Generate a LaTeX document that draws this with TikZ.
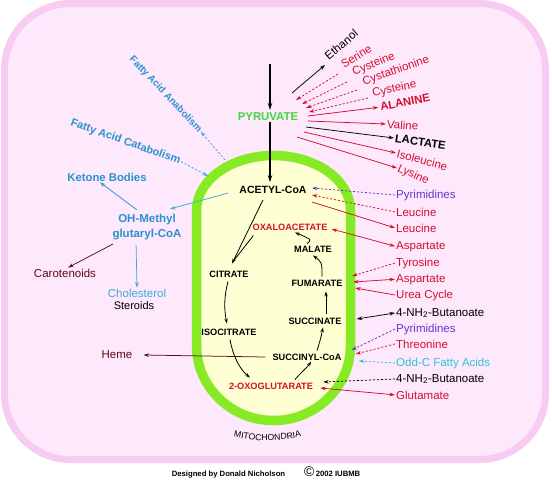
\documentclass[tikz,border=0pt]{standalone}
\usepackage{fontspec}
\setmainfont{Liberation Sans}
\usetikzlibrary{arrows.meta,decorations.text}
\definecolor{cellfill}{HTML}{FDE8FC}
\definecolor{cellline}{HTML}{F8CBF2}
\definecolor{mitofill}{HTML}{FFFFD4}
\definecolor{mitoline}{HTML}{86EA24}
\definecolor{pyrgreen}{HTML}{3FD83F}
\definecolor{rd}{HTML}{D2102C}
\definecolor{pu}{HTML}{6A30D0}
\definecolor{bl}{HTML}{2A92CF}
\definecolor{lb}{HTML}{3FAADB}
\definecolor{cy}{HTML}{2EC4D4}
\definecolor{mr}{HTML}{5C0A18}
\tikzset{
  arr/.style={line width=0.75pt,-{Stealth[length=5.5pt,width=3.6pt]}},
  darr/.style={line width=0.75pt,{Stealth[length=5.5pt,width=3.6pt]}-{Stealth[length=5.5pt,width=3.6pt]}},
  dsh/.style={dash pattern=on 2.2pt off 1.8pt},
  lbl/.style={font=\fontsize{11.5}{12}\selectfont, inner sep=1pt},
  blbl/.style={font=\bfseries\fontsize{11.3}{12}\selectfont, inner sep=1pt},
  cyc/.style={font=\bfseries\fontsize{9.2}{10}\selectfont, inner sep=1pt},
  carr/.style={line width=0.8pt,-{Stealth[length=5pt,width=3.4pt]}},
  bigarr/.style={line width=1.2pt,-{Stealth[length=7pt,width=4.5pt]}},
  foot/.style={font=\bfseries\fontsize{7.7}{9}\selectfont, inner sep=0pt},
}
\begin{document}
\begin{tikzpicture}[x=1pt,y=-1pt]
\useasboundingbox (0,0) rectangle (552,480);
\fill[white] (0,0) rectangle (552,480);
% cell
\draw[cellline, line width=7pt, fill=cellfill, rounded corners=66pt] (4.5,3.5) rectangle (545.5,459.5);
% mitochondrion
\draw[mitoline, line width=9.5pt, fill=mitofill]
  (196.5,210.5) .. controls (196.5,180.1) and (231.0,155.5) .. (273.5,155.5)
  .. controls (316.0,155.5) and (350.5,180.1) .. (350.5,210.5) -- (350.5,345.5)
  .. controls (350.5,386.9) and (316.0,420.5) .. (273.5,420.5)
  .. controls (231.0,420.5) and (196.5,386.9) .. (196.5,345.5) -- cycle;
\path[decorate, decoration={text along path, text align=center,
  text={|\fontsize{8.7}{9}\selectfont|MITOCHONDRIA}}]
  (220,433) .. controls (250,443) and (285,443) .. (315,433);

% main nodes
\node[font=\bfseries\fontsize{11.4}{12}\selectfont, text=pyrgreen, inner sep=1pt] (pyr) at (268,117) {PYRUVATE};
\node[font=\bfseries\fontsize{10.5}{11}\selectfont, inner sep=1pt] (acoa) at (273,190) {ACETYL-CoA};
\coordinate (top) at (270,64);
\draw[bigarr, shorten >=2pt] (top) -- (pyr.north -| top);
\draw[bigarr, shorten >=3pt] (pyr.south -| top) -- (acoa.north -| top);

% cycle nodes
\node[cyc, text=rd] (oxa) at (290,227) {OXALOACETATE};
\node[cyc] (mal) at (313,249) {MALATE};
\node[cyc] (cit) at (229,274) {CITRATE};
\node[cyc] (fum) at (317,283) {FUMARATE};
\node[cyc] (suc) at (315,321) {SUCCINATE};
\node[cyc] (iso) at (229,332) {ISOCITRATE};
\node[cyc] (scoa) at (307,357) {SUCCINYL-CoA};
\node[cyc, text=rd] (oxg) at (271,386) {2-OXOGLUTARATE};

% cycle arrows
\draw[carr] ([xshift=-10pt,yshift=-5pt]acoa.south) -- ([xshift=3pt,yshift=6pt]cit.north);
\draw[line width=0.8pt] ([xshift=2pt,yshift=-4pt]oxa.south west) -- ([xshift=4pt,yshift=8pt]cit.north);
\draw[carr] ([xshift=-1pt,yshift=-3pt]cit.south) .. controls ([xshift=-5pt,yshift=-18pt]cit.south) and ([xshift=-5pt,yshift=18pt]iso.north) .. ([xshift=-2pt,yshift=4pt]iso.north);
\draw[carr] ([xshift=1pt,yshift=-3pt]iso.south) .. controls ([xshift=4pt,yshift=-20pt]iso.south) and ([xshift=-31pt,yshift=12pt]oxg.north) .. ([xshift=-21pt,yshift=4pt]oxg.north);
\draw[carr] ([xshift=24pt,yshift=2pt]oxg.north) .. controls ([xshift=30pt,yshift=9pt]oxg.north) and ([xshift=1pt,yshift=-5pt]scoa.south) .. ([xshift=4pt]scoa.south);
\draw[carr] ([xshift=10pt,yshift=2pt]scoa.north) .. controls ([xshift=6pt,yshift=-12pt]suc.south) .. ([xshift=8pt,yshift=-2pt]suc.south);
\draw[carr] ([xshift=11pt,yshift=3pt]suc.north) -- ([xshift=9pt,yshift=-4pt]fum.south);
\draw[carr] ([xshift=5pt,yshift=2pt]fum.north) .. controls ([xshift=9pt,yshift=-9pt]mal.south) .. ([yshift=-2pt]mal.south);
\draw[carr] ([xshift=-6pt,yshift=1pt]mal.north) .. controls ([xshift=-1pt,yshift=5pt]mal.north) .. ([xshift=5pt,yshift=-1pt]oxa.south);

% pyruvate fan
\coordinate (pe) at (292,93);
\coordinate (ps1) at (296,100);
\coordinate (ps2) at (302,104);
\coordinate (ps3) at (306,108);
\coordinate (ps4) at (309,112);
\coordinate (pa) at (308,116);
\coordinate (pv) at (308,121);
\coordinate (pl) at (306,127);
\coordinate (pi) at (304,132);
\coordinate (py) at (297,137);
\node[lbl, anchor=base west, rotate=40] (eth) at (328,61) {Ethanol};
\node[lbl, text=rd, anchor=base west, rotate=31] (ser) at (343,69) {Serine};
\node[lbl, text=rd, anchor=base west, rotate=22] (cys1) at (353,76) {Cysteine};
\node[lbl, text=rd, anchor=base west, rotate=19.5] (cth) at (363,86) {Cystathionine};
\node[lbl, text=rd, anchor=base west, rotate=12] (cys2) at (372,97) {Cysteine};
\node[blbl, text=rd, anchor=base west, rotate=11] (ala) at (380,111) {ALANINE};
\node[lbl, text=rd, anchor=west, rotate=-4] (val) at (386,124) {Valine};
\node[blbl, anchor=west, rotate=-8] (lac) at (394,138) {LACTATE};
\node[lbl, text=rd, anchor=west, rotate=-15] (ile) at (396,153) {Isoleucine};
\node[lbl, text=rd, anchor=west, rotate=-24] (lys) at (397,168) {Lysine};
\draw[arr] (pe) -- ([shift={(-3,4)}]eth.base west);
\draw[arr, dsh, rd] ([shift={(-5,5)}]ser.base west) -- (ps1);
\draw[arr, dsh, rd] ([shift={(-6,6)}]cys1.base west) -- (ps2);
\draw[arr, dsh, rd] ([shift={(-6,4)}]cth.base west) -- (ps3);
\draw[arr, dsh, rd] ([shift={(-4,1)}]cys2.base west) -- (ps4);
\draw[arr, rd, shorten >=1pt] (pa) -- (ala.west);
\draw[arr, rd] (pv) -- (val.west);
\draw[arr] (pl) -- (lac.west);
\draw[arr, rd] (pi) -- (ile.west);
\draw[arr, rd] (py) -- (lys.west);

% right-hand labels
\node[lbl, text=pu, anchor=base west] (pyr1) at (395,198) {Pyrimidines};
\node[lbl, text=rd, anchor=base west] (leu1) at (395,216) {Leucine};
\node[lbl, text=rd, anchor=base west] (leu2) at (395,232) {Leucine};
\node[lbl, text=rd, anchor=base west] (asp1) at (395,249) {Aspartate};
\node[lbl, text=rd, anchor=base west] (tyr) at (395,266) {Tyrosine};
\node[lbl, text=rd, anchor=base west] (asp2) at (395,282) {Aspartate};
\node[lbl, text=rd, anchor=base west] (urea) at (395,298) {Urea Cycle};
\node[lbl, anchor=base west] (but1) at (395,316) {4-NH\textsubscript{2}-Butanoate};
\node[lbl, text=pu, anchor=base west] (pyr2) at (395,332) {Pyrimidines};
\node[lbl, text=rd, anchor=base west] (thr) at (395,348) {Threonine};
\node[lbl, text=cy, anchor=base west] (oddc) at (395,366) {Odd-C Fatty Acids};
\node[lbl, anchor=base west] (but2) at (395,382) {4-NH\textsubscript{2}-Butanoate};
\node[lbl, text=rd, anchor=base west] (glu) at (395,399) {Glutamate};

\draw[arr, dsh, pu] (pyr1.west) -- ([shift={(39,-2)}]acoa.center);
\draw[arr, dsh, rd] (leu1.west) -- ([shift={(39,5)}]acoa.center);
\draw[arr, rd] ([shift={(39,12)}]acoa.center) -- (leu2.west);
\draw[darr, rd] ([shift={(3,2)}]oxa.east) -- (asp1.west);
\draw[arr, dsh, rd] (tyr.west) -- ([shift={(8.5,-7)}]fum.east);
\draw[darr, rd] ([shift={(9.5,-1)}]fum.east) -- (asp2.west);
\draw[arr, rd] (urea.west) -- ([shift={(11.5,5)}]fum.east);
\draw[darr] ([shift={(14,-2)}]suc.east) -- (but1.west);
\draw[arr, dsh, pu] (pyr2.west) -- ([shift={(9,-7)}]scoa.east);
\draw[arr, dsh, rd] (thr.west) -- ([shift={(13,-3)}]scoa.east);
\draw[arr, dsh, cy] (oddc.west) -- ([shift={(16,4)}]scoa.east);
\draw[arr, dsh] (but2.west) -- ([shift={(9,-4)}]oxg.east);
\draw[darr, rd] ([shift={(6,2)}]oxg.east) -- (glu.west);

% left-hand side
\node[font=\bfseries\fontsize{9.8}{10}\selectfont, text=bl, inner sep=1pt, rotate=-46.5] (faa) at (165.5,94.5) {Fatty Acid Anabolism};
\node[font=\bfseries\fontsize{11}{12}\selectfont, text=bl, inner sep=1pt, rotate=-19.5] (fac) at (125.5,142) {Fatty Acid Catabolism};
\coordinate (m2) at (225,160);
\coordinate (m1) at (208,176);
\draw[arr, dsh, lb] (m2) -- (faa.east);
\draw[arr, dsh, lb] (fac.east) -- (m1);
\node[blbl, text=bl] (ket) at (107,177) {Ketone Bodies};
\node[font=\bfseries\fontsize{11.5}{15}\selectfont, text=bl, inner sep=1pt, align=center] (ohm) at (147,227) {OH-Methyl\\glutaryl-CoA};
\node[lbl, text=mr] (car) at (65,273) {Carotenoids};
\node[lbl, text=lb] (chol) at (137,293) {Cholesterol};
\node[lbl, font=\fontsize{11}{12}\selectfont] (ster) at (134,306) {Steroids};
\node[lbl, text=mr] (hem) at (117,355) {Heme};
\draw[arr, lb] ([shift={(-10,3)}]acoa.west) -- ([shift={(23,-18)}]ohm.center);
\draw[arr, bl] ([shift={(-10,-3)}]ohm.north) -- ([xshift=-7pt]ket.south);
\draw[arr, mr] ([shift={(-34,17)}]ohm.center) -- ([xshift=3pt]car.north);
\draw[arr, lb, shorten <=4pt] ([xshift=-11pt]ohm.south) -- (chol.north);
\draw[arr, mr] ([xshift=-6pt]scoa.west) -- ([xshift=10pt]hem.east);

% footer
\node[foot, anchor=base] (des) at (228.5,476.5) {Designed by Donald Nicholson};
\node[foot, anchor=base west] (cpy) at (304,476.5) {{\fontsize{14}{14}\selectfont\mdseries ©}\,2002 IUBMB};
\end{tikzpicture}
\end{document}
